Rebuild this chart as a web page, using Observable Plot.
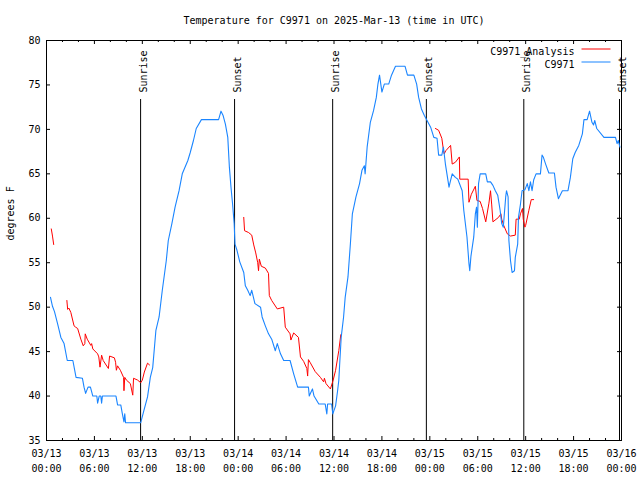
<!DOCTYPE html>
<html>
<head>
<meta charset="utf-8">
<script src="https://cdn.jsdelivr.net/npm/d3@7"></script>
<script src="https://cdn.jsdelivr.net/npm/@observablehq/plot@0.6"></script>
<style>
  html, body { margin: 0; padding: 0; background: #fff; }
</style>
</head>
<body>
<div id="chart"></div>
<script>
// ---------------- data ----------------
const chartTitle = "Temperature for C9971 on 2025-Mar-13 (time in UTC)";
const yAxisLabel = "degrees F";
const startTime = "2025-03-13T00:00Z";
const endTime = "2025-03-16T00:00Z";
const yTicks = [35, 40, 45, 50, 55, 60, 65, 70, 75, 80];
const seriesNames = ["C9971_Analysis", "C9971"];
const seriesColors = ["#ff0000", "#1a85ff"];

// Observed (C9971): hours since 2025-03-13 00:00 UTC, temperature in degrees F
const obsHours = [0.5, 0.75, 1.0, 1.4, 1.8, 2.2, 2.6, 3.3, 3.7, 4.5, 4.7, 4.9, 5.2, 5.5, 5.8, 6.3, 6.4, 6.6, 6.8, 6.9,
  7.0, 8.7, 8.9, 9.3, 9.5, 9.7, 9.8, 9.9, 11.8, 12.2, 12.65, 13.0, 13.3, 13.7, 14.1, 14.5, 15.0, 15.25, 15.7, 16.1,
  16.6, 17.0, 17.7, 18.0, 18.4, 18.75, 19.4, 21.55, 21.85, 22.1, 22.4, 22.7, 22.9, 23.1, 23.3, 23.5, 23.6, 23.85, 24.2, 24.7,
  24.9, 25.2, 25.5, 25.7, 26.1, 26.8, 27.0, 27.4, 27.8, 28.2, 28.65, 28.9, 29.3, 29.7, 30.5, 30.95, 31.45, 32.8, 32.9, 33.3,
  33.5, 34.1, 34.9, 35.1, 35.2, 35.7, 35.85, 36.2, 36.45, 36.6, 36.7, 36.9, 37.2, 37.4, 37.75, 38.05, 38.3, 38.75, 39.2, 39.5,
  39.8, 39.9, 40.15, 40.55, 40.95, 41.3, 41.5, 41.7, 42.0, 42.3, 42.85, 43.2, 43.7, 44.9, 45.2, 46.0, 46.35, 46.6, 46.95, 47.3,
  47.65, 48.1, 48.5, 48.9, 49.1, 49.5, 49.7, 49.95, 50.4, 50.5, 50.8, 51.2, 51.5, 52.05, 52.25, 52.65, 52.9, 53.0, 53.15, 53.5,
  53.7, 53.85, 53.95, 54.1, 54.3, 55.0, 55.2, 55.6, 55.9, 56.2, 56.5, 56.8, 57.0, 57.2, 57.5, 57.6, 57.8, 57.9, 58.1, 58.3,
  58.6, 58.7, 59.0, 59.1, 59.35, 59.55, 59.9, 60.2, 60.4, 60.6, 60.8, 61.0, 61.3, 61.85, 62.05, 62.2, 62.5, 62.9, 63.6, 63.8,
  64.1, 64.6, 65.3, 65.6, 65.9, 66.2, 66.65, 67.1, 67.3, 67.7, 68.0, 68.3, 68.5, 68.65, 68.9, 69.8, 71.25, 71.45, 71.6, 71.8];
const obsTemp = [51.1, 50.1, 49.5, 48.1, 46.6, 45.9, 44.0, 44.0, 42.1, 42.0, 41.0, 40.3, 41.0, 41.0, 40.0, 40.0, 39.2, 40.0, 40.0, 39.2,
  40.0, 40.0, 39.0, 39.0, 38.0, 37.1, 38.0, 37.0, 37.0, 38.4, 39.9, 42.1, 43.2, 47.4, 48.9, 51.9, 55.25, 57.5, 59.4, 61.25,
  63.1, 65.0, 66.5, 67.4, 68.75, 70.1, 71.1, 71.1, 72.05, 71.6, 70.6, 69.1, 65.75, 63.5, 61.6, 59.4, 57.1, 56.4, 55.1, 53.9,
  52.4, 51.9, 51.3, 51.9, 50.4, 50.0, 48.9, 47.9, 47.0, 46.4, 45.1, 45.9, 44.75, 44.0, 44.0, 42.5, 41.0, 41.0, 40.0, 40.8,
  40.0, 39.1, 39.1, 38.0, 39.1, 39.1, 38.0, 38.9, 40.6, 41.75, 43.4, 46.6, 48.9, 51.1, 53.4, 57.1, 60.5, 62.4, 63.9, 65.4,
  65.9, 65.0, 68.0, 70.8, 72.1, 73.6, 75.1, 76.1, 74.2, 75.1, 75.1, 76.1, 77.1, 77.1, 76.1, 76.1, 75.1, 73.6, 72.3, 71.6,
  71.0, 70.25, 69.1, 69.0, 67.1, 67.1, 68.0, 66.1, 63.5, 63.9, 65.0, 64.6, 64.4, 63.1, 60.9, 57.9, 54.9, 54.1, 55.75, 57.9,
  60.5, 61.25, 59.0, 63.9, 65.0, 65.0, 64.1, 64.1, 63.7, 63.1, 62.6, 60.9, 59.4, 59.0, 62.4, 63.1, 62.4, 57.5, 55.25, 53.9,
  54.1, 55.6, 57.1, 60.1, 61.6, 63.1, 63.2, 63.9, 63.1, 64.1, 63.1, 64.3, 65.0, 65.0, 67.1, 66.9, 66.1, 65.1, 65.1, 63.5,
  62.2, 63.1, 63.1, 64.6, 66.7, 67.4, 68.2, 69.5, 71.1, 71.1, 72.05, 70.8, 70.5, 71.0, 70.1, 69.1, 69.1, 68.4, 68.75, 68.0];

// Analysis (C9971_Analysis): null marks a gap between segments
const anaHours = [0.6, 0.75, 0.9, null,
  2.55, 2.65, 2.8, 3.05, 3.45, 3.65, 3.9, 4.3, 4.6, 4.8, 4.85, 5.1, 5.55, 5.65, 5.8, 6.4, 6.55, 6.7, 6.9, 7.1,
  7.75, 7.9, 8.5, 8.65, 8.75, 8.9, 9.25, 9.65, 9.7, 9.8, 10.0, 10.5, 10.8, 10.9, 11.4, 11.8, 12.0, 12.25, 12.65, 12.9, null,
  24.7, 24.8, 25.3, 25.7, 25.95, 26.2, 26.45, 26.55, 26.65, 26.9, 27.4, 27.8, 27.9, 28.2, 28.9, 29.7, 29.9, 30.5, 30.6, 30.95,
  31.55, 31.8, 32.2, 32.6, 32.7, 32.8, 33.0, 33.65, 34.3, 34.7, 34.8, 35.0, 35.55, 35.9, 36.2, 36.6, 36.85, null,
  48.7, 49.1, 49.5, 49.7, 49.8, 50.0, 50.6, 50.8, 51.2, 51.7, 51.75, 52.8, 52.9, 53.2, 53.7, 53.9, 54.3, 54.6, 55.0, 55.4,
  55.6, 55.75, 55.9, 56.6, 56.9, 57.0, 57.25, 57.7, 58.1, 58.7, 58.8, 59.2, 59.35, 59.6, 59.7, 59.9, 60.0, 60.4, 60.7, 61.0];
const anaTemp = [58.8, 58.0, 57.05, null,
  50.75, 49.75, 49.9, 49.4, 47.9, 47.75, 47.6, 46.4, 45.65, 45.9, 47.0, 46.4, 45.7, 45.9, 45.3, 44.75, 44.4, 43.25, 44.6, 44.0,
  43.1, 44.5, 44.3, 43.8, 42.9, 43.4, 42.9, 42.1, 40.6, 42.1, 41.8, 41.4, 40.1, 42.0, 41.8, 41.5, 41.8, 42.7, 43.7, 43.5, null,
  60.1, 58.6, 58.4, 58.1, 57.0, 56.1, 55.0, 54.1, 55.4, 54.6, 54.4, 53.8, 51.3, 50.75, 49.8, 50.0, 47.75, 47.0, 46.3, 47.1,
  46.6, 44.4, 43.9, 43.1, 42.25, 44.1, 43.8, 42.75, 42.1, 41.6, 42.0, 41.4, 40.8, 41.8, 42.9, 45.1, 46.9, null,
  70.1, 69.9, 69.0, 67.7, 67.25, 67.6, 68.2, 66.1, 66.3, 66.9, 64.4, 64.4, 61.8, 62.7, 63.6, 62.0, 61.9, 61.1, 59.6, 61.7,
  63.1, 61.5, 59.6, 60.1, 60.5, 59.9, 59.2, 58.25, 58.0, 58.1, 59.9, 59.9, 60.5, 61.1, 59.9, 59.0, 59.2, 60.9, 62.1, 62.1];

// Sunrise / sunset marker lines
const sunTimes = ["2025-03-13T11:47Z", "2025-03-13T23:33Z", "2025-03-14T11:50Z",
                  "2025-03-14T23:34Z", "2025-03-15T11:46Z", "2025-03-15T23:45Z"];
const sunLabels = ["Sunrise", "Sunset", "Sunrise", "Sunset", "Sunrise", "Sunset"];

// ---------------- build ----------------
const t0 = Date.parse(startTime);
const toDate = h => (h == null ? null : new Date(t0 + h * 3600e3));
const obs = obsHours.map((h, i) => ({t: toDate(h), v: obsTemp[i]}));
const ana = anaHours.map((h, i) => ({t: toDate(h), v: anaTemp[i]}));
const sun = sunTimes.map((s, i) => ({t: new Date(s), label: sunLabels[i]}));

const start = new Date(startTime), end = new Date(endTime);
const majorX = d3.utcHour.every(6).range(start, new Date(+end + 1));
const minorX = d3.utcHour.every(2).range(start, new Date(+end + 1)).filter(d => d.getUTCHours() % 6 !== 0);

const W = 640, H = 480, mL = 46, mR = 19, mT = 40, mB = 40;
const fw = W - mL - mR, fh = H - mT - mB;
const font = "'DejaVu Sans Mono', 'Liberation Mono', monospace";

const chart = Plot.plot({
  width: W, height: H,
  marginLeft: mL, marginRight: mR, marginTop: mT, marginBottom: mB,
  style: {fontFamily: font, fontSize: "10px", background: "white", color: "black", overflow: "visible"},
  x: {type: "utc", domain: [start, end]},
  y: {domain: [35, 80]},
  marks: [
    // sunrise/sunset lines and labels
    Plot.ruleX(sun, {x: "t", insetTop: 59, stroke: "black", strokeWidth: 1}),
    Plot.text(sun, {x: "t", text: "label", frameAnchor: "top", dy: 52, dx: -1, rotate: -90,
                    textAnchor: "start", fill: "black", fontSize: 10}),
    // series
    Plot.line(ana, {x: "t", y: "v", stroke: seriesColors[0], strokeWidth: 1}),
    Plot.line(obs, {x: "t", y: "v", stroke: seriesColors[1], strokeWidth: 1.1}),
    // frame and inward ticks
    Plot.frame({stroke: "black"}),
    Plot.ruleX(majorX, {insetTop: fh - 4, stroke: "black"}),
    Plot.ruleX(majorX, {insetBottom: fh - 4, stroke: "black"}),
    Plot.ruleX(minorX, {insetTop: fh - 2, stroke: "black"}),
    Plot.ruleX(minorX, {insetBottom: fh - 2, stroke: "black"}),
    Plot.ruleY(yTicks, {insetRight: fw - 4, stroke: "black"}),
    Plot.ruleY(yTicks, {insetLeft: fw - 4, stroke: "black"}),
    // tick labels
    Plot.axisX(majorX, {tickSize: 0, tickPadding: 6, tickFormat: d3.utcFormat("%m/%d\n%H:%M"),
                        lineHeight: 1.5, label: null, fontSize: 10}),
    Plot.axisY(yTicks, {tickSize: 0, tickPadding: 6, label: null, fontSize: 10}),
    // titles
    Plot.text([yAxisLabel], {frameAnchor: "left", dx: -36, rotate: -90, fontSize: 10}),
    Plot.text([chartTitle], {frameAnchor: "top", dy: -24, fontSize: 10}),
    // legend
    Plot.text([seriesNames[0]], {frameAnchor: "top-right", textAnchor: "end", dx: -47, dy: 7, fontSize: 10}),
    Plot.text([seriesNames[1]], {frameAnchor: "top-right", textAnchor: "end", dx: -47, dy: 20, fontSize: 10}),
    Plot.frame({fill: seriesColors[0], stroke: "none", insetLeft: 535, insetRight: 11, insetTop: 8, insetBottom: fh - 9}),
    Plot.frame({fill: seriesColors[1], stroke: "none", insetLeft: 535, insetRight: 11, insetTop: 21, insetBottom: fh - 22})
  ]
});
document.getElementById("chart").appendChild(chart);
</script>
</body>
</html>
